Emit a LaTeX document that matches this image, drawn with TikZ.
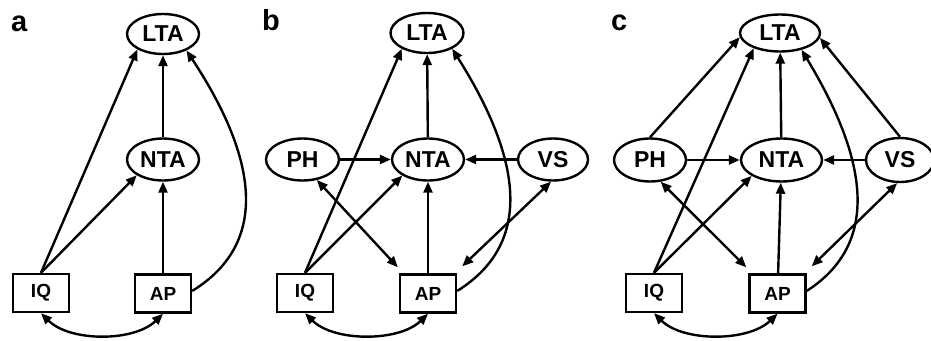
\documentclass[tikz,border=0pt]{standalone}
\usepackage{fontspec}
\setmainfont{Liberation Sans}
\usetikzlibrary{shapes.geometric,arrows.meta}
\tikzset{
  ell/.style={ellipse, draw, line width=2.4pt, inner sep=0pt, font=\fontsize{23}{23}\selectfont\bfseries},
  box/.style={rectangle, draw, line width=2.4pt, inner sep=0pt, minimum width=56pt, minimum height=38pt, font=\fontsize{19}{19}\selectfont\bfseries},
  tip/.tip={Triangle[length=11pt,width=9pt]},
  arr/.style={-tip, line width=2.4pt},
  darr/.style={tip-tip, line width=2.4pt},
  plabel/.style={anchor=base west, inner sep=0pt, font=\fontsize{29}{29}\selectfont\bfseries}
}
\begin{document}
\begin{tikzpicture}[x=1pt,y=-1pt]
\useasboundingbox (0,0) rectangle (931,340);
% ---------- panel a ----------
\node[plabel] (la) at (11,31) {a};
\node[ell, minimum width=72pt, minimum height=40pt] (aL) at (163,34) {LTA};
\node[ell, minimum width=72pt, minimum height=42pt] (aN) at (163,159.5) {NTA};
\node[box] (aI) at (41,293) {IQ};
\node[box] (aA) at (163,293.5) {AP};
\draw[arr] (aI.north) -- (aL.211);
\draw[arr] (aI.north) -- (aN.211);
\draw[arr] (aN) -- (aL);
\draw[arr] (aA) -- (aN);
\draw[arr] (aA.5) .. controls (275,240) and (252,150) .. (aL.325);
\draw[darr] (aI.south) .. controls (70,342) and (134,342) .. (aA.south);
% ---------- panel b ----------
\node[plabel] (lb) at (262,30) {b};
\node[ell, minimum width=73pt, minimum height=40pt] (bL) at (427,33) {LTA};
\node[ell, minimum width=72pt, minimum height=42pt] (bN) at (428,159.5) {NTA};
\node[ell, minimum width=73pt, minimum height=42pt] (bP) at (302.5,159.5) {PH};
\node[ell, minimum width=70pt, minimum height=42pt] (bV) at (553,159.5) {VS};
\node[box] (bI) at (305,293) {IQ};
\node[box] (bA) at (428,293.5) {AP};
\draw[arr] (bI.north) -- (bL.212);
\draw[arr] (bI.north) -- (bN.212);
\draw[arr] (bN) -- (bL);
\draw[arr] (bA) -- (bN);
\draw[arr] (bP.east) -- (bN.west);
\draw[arr] (bV.west) -- (bN.east);
\draw[darr] (bP.305) -- ([shift={(-1,-6)}]bA.north west);
\draw[darr] (bV.265) -- ([shift={(5,-7)}]bA.north east);
\draw[arr] (bA.5) .. controls (539,240) and (516,150) .. (bL.328);
\draw[darr] (bI.south) .. controls (334,342) and (399,342) .. (bA.south);
% ---------- panel c ----------
\node[plabel] (lc) at (611,30) {c};
\node[ell, minimum width=80pt, minimum height=37pt] (cL) at (780,33) {LTA};
\node[ell, minimum width=81pt, minimum height=43pt] (cN) at (781.5,160) {NTA};
\node[ell, minimum width=72pt, minimum height=43pt] (cP) at (650,160) {PH};
\node[ell, minimum width=68pt, minimum height=44pt] (cV) at (900,160) {VS};
\node[box] (cI) at (654,293) {IQ};
\node[box] (cA) at (777.5,293.5) {AP};
\draw[arr] (cP.north) -- (cL.186);
\draw[arr] (cV.north) -- (cL.353);
\draw[arr] (cI.north) -- (cL.210);
\draw[arr] (cI.north) -- (cN.208);
\draw[arr] (cN) -- (cL);
\draw[arr] (cA) -- (cN);
\draw[arr] (cP.east) -- (cN.west);
\draw[arr] (cV.west) -- (cN.east);
\draw[darr] (cP.296) -- ([shift={(-2,-6)}]cA.north west);
\draw[darr] (cV.263) -- ([shift={(5,-7)}]cA.north east);
\draw[arr] (cA.5) .. controls (886,240) and (862,150) .. (cL.322);
\draw[darr] (cI.south) .. controls (683,342) and (748,342) .. (cA.south);
\end{tikzpicture}
\end{document}
